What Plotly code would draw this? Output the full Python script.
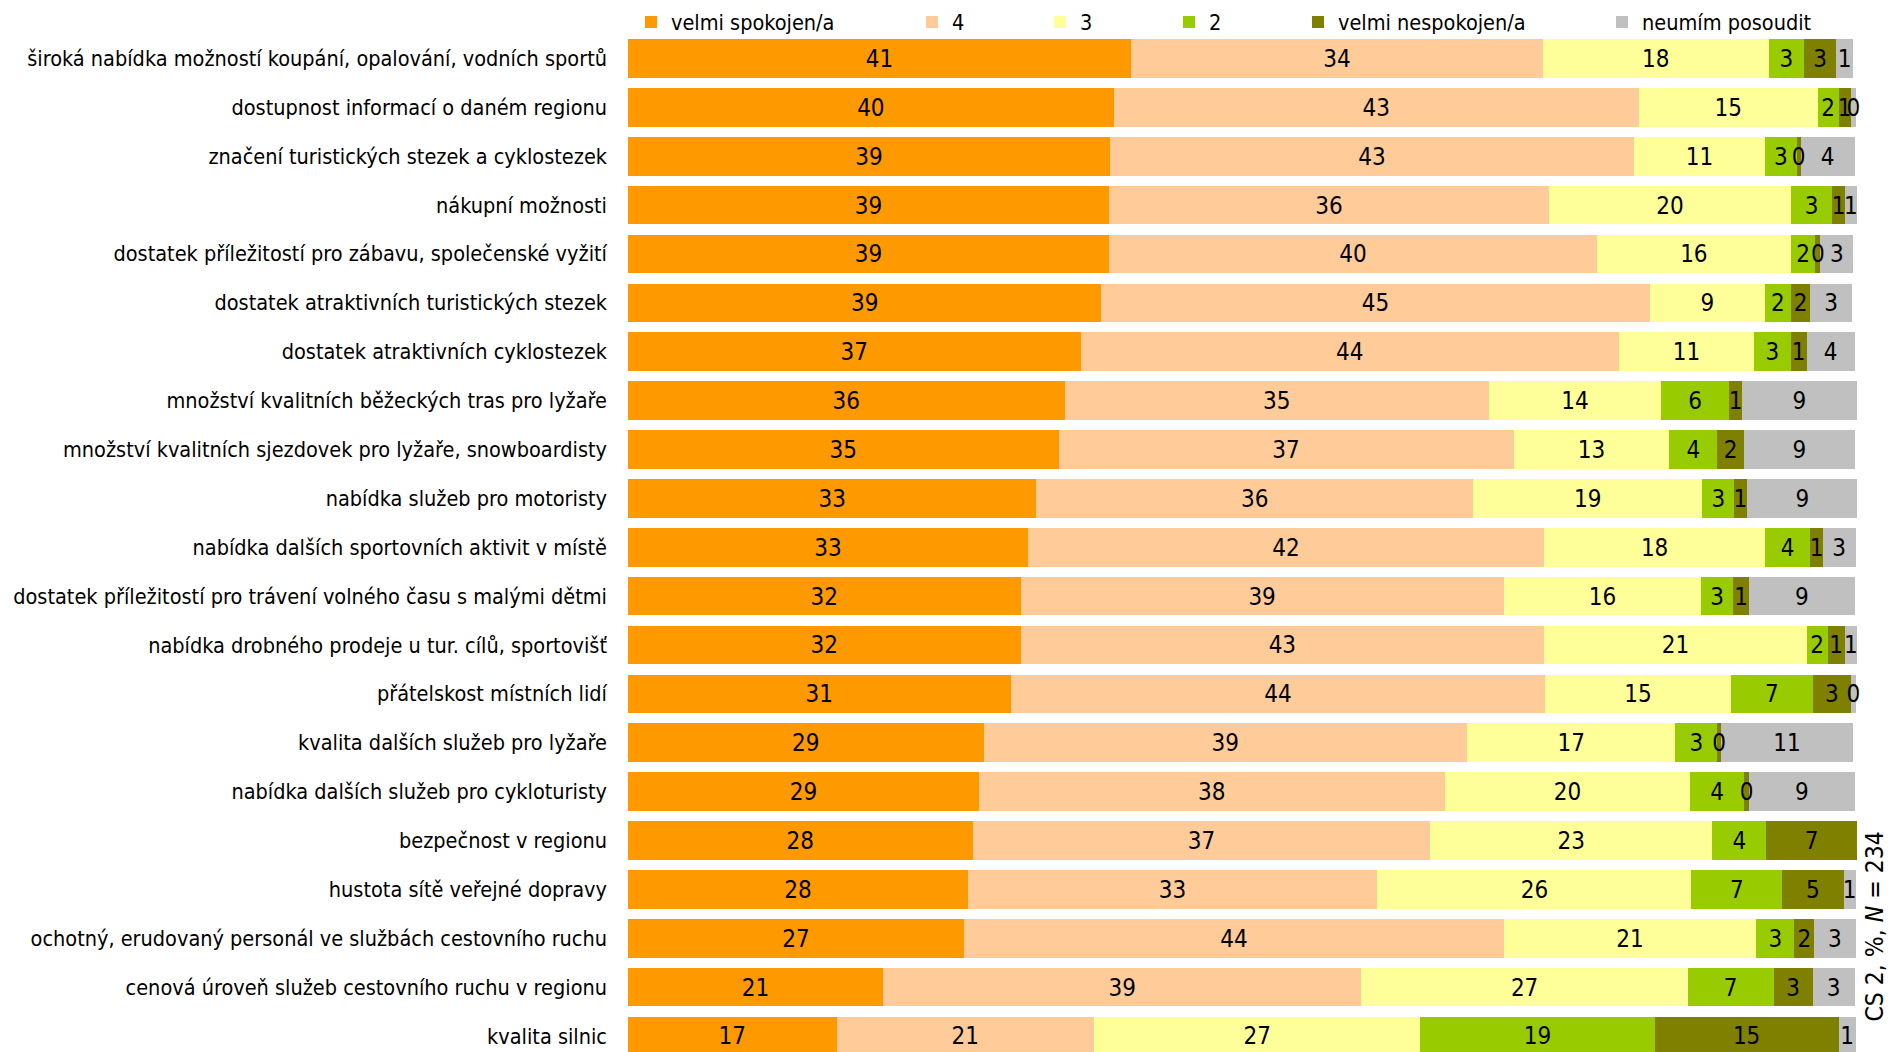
import plotly.graph_objects as go

categories = [
    "široká nabídka možností koupání, opalování, vodních sportů",
    "dostupnost informací o daném regionu",
    "značení turistických stezek a cyklostezek",
    "nákupní možnosti",
    "dostatek příležitostí pro zábavu, společenské vyžití",
    "dostatek atraktivních turistických stezek",
    "dostatek atraktivních cyklostezek",
    "množství kvalitních běžeckých tras pro lyžaře",
    "množství kvalitních sjezdovek pro lyžaře, snowboardisty",
    "nabídka služeb pro motoristy",
    "nabídka dalších sportovních aktivit v místě",
    "dostatek příležitostí pro trávení volného času s malými dětmi",
    "nabídka drobného prodeje u tur. cílů, sportovišť",
    "přátelskost místních lidí",
    "kvalita dalších služeb pro lyžaře",
    "nabídka dalších služeb pro cykloturisty",
    "bezpečnost v regionu",
    "hustota sítě veřejné dopravy",
    "ochotný, erudovaný personál ve službách cestovního ruchu",
    "cenová úroveň služeb cestovního ruchu v regionu",
    "kvalita silnic",
]

series_names = ["velmi spokojen/a", "4", "3", "2", "velmi nespokojen/a", "neumím posoudit"]

velmi_spokojen = [41.0, 39.6, 39.3, 39.2, 39.2, 38.6, 36.9, 35.6, 35.1, 33.3, 32.6,
                  32.0, 32.0, 31.2, 29.0, 28.6, 28.1, 27.7, 27.4, 20.8, 17.0]
hodnoceni_4 = [33.6, 42.8, 42.7, 35.9, 39.8, 44.7, 43.9, 34.6, 37.1, 35.6, 42.1,
               39.4, 42.7, 43.6, 39.4, 38.0, 37.3, 33.4, 44.0, 39.0, 21.0]
hodnoceni_3 = [18.4, 14.6, 10.7, 19.7, 15.8, 9.4, 11.0, 14.0, 12.7, 18.7, 18.0,
               16.1, 21.4, 15.1, 17.0, 20.0, 23.0, 25.6, 20.6, 26.6, 26.6]
hodnoceni_2 = [2.9, 1.7, 2.6, 3.4, 2.0, 2.1, 3.0, 5.6, 3.9, 2.6, 3.7,
               2.6, 1.7, 6.7, 3.4, 4.4, 4.4, 7.4, 3.1, 7.0, 19.1]
velmi_nespokojen = [2.6, 1.0, 0.3, 1.0, 0.4, 1.6, 1.3, 1.0, 2.2, 1.0, 1.0,
                    1.3, 1.4, 3.1, 0.3, 0.4, 7.4, 5.0, 1.6, 3.2, 15.0]
neumim_posoudit = [1.4, 0.4, 4.4, 1.0, 2.7, 3.4, 3.9, 9.4, 9.0, 9.1, 2.7,
                   8.6, 1.0, 0.4, 10.8, 8.6, None, 1.0, 3.4, 3.4, 1.4]

colors = ["#FF9900", "#FFCC99", "#FFFF99", "#99CC00", "#808000", "#C0C0C0"]
legend_x_px = [631, 912, 1040, 1169, 1298, 1602]

FONT = "DejaVu Sans Condensed, Liberation Sans, sans-serif"
W, H = 1890, 1052

all_series = [velmi_spokojen, hodnoceni_4, hodnoceni_3, hodnoceni_2, velmi_nespokojen, neumim_posoudit]

fig = go.Figure()
for i, (name, vals, col) in enumerate(zip(series_names, all_series, colors)):
    fig.add_trace(go.Bar(
        y=categories, x=vals, name=name, orientation="h",
        marker=dict(color=col, line=dict(width=0)),
        hoverinfo="skip",
        legend="legend" if i == 0 else f"legend{i+1}",
    ))

# value labels drawn above all bars (segment centres from the cumulative data)
lab_x, lab_y, lab_t = [], [], []
for r, cat in enumerate(categories):
    start = 0.0
    for vals in all_series:
        v = vals[r]
        if v is None:
            continue
        lab_x.append(start + v / 2)
        lab_y.append(cat)
        lab_t.append(str(int(v + 0.5)))
        start += v
fig.add_trace(go.Scatter(
    x=lab_x, y=lab_y, text=lab_t, mode="text", textposition="middle center",
    textfont=dict(family=FONT, size=24, color="black"),
    showlegend=False, hoverinfo="skip", cliponaxis=False, yaxis="y2",
))

plot_left = 628
px_per_unit = 12.27
x_max = 100.2
plot_right = plot_left + x_max * px_per_unit
top = 33.5
plot_w = plot_right - plot_left
plot_h = H - top
y_bottom = 20 + (H - 1036) / 48.9
text_shift = 0.05  # nudges label baseline so digits sit optically centred

layout_legends = {}
for i, lx in enumerate(legend_x_px):
    key = "legend" if i == 0 else f"legend{i+1}"
    layout_legends[key] = dict(
        orientation="h", xref="container", yref="container",
        x=lx / W, y=1 - 22 / H, xanchor="left", yanchor="middle",
        bgcolor="rgba(0,0,0,0)", borderwidth=0, itemwidth=30,
        font=dict(family=FONT, size=21.5, color="black"),
        itemclick=False, itemdoubleclick=False,
    )

fig.update_layout(
    width=W, height=H,
    margin=dict(l=plot_left, r=W - plot_right, t=top, b=0, pad=0, autoexpand=False),
    barmode="stack", bargap=0.21,
    plot_bgcolor="white", paper_bgcolor="white",
    showlegend=True,
    xaxis=dict(range=[0, x_max], visible=False, fixedrange=True),
    yaxis=dict(
        categoryorder="array", categoryarray=categories,
        range=[y_bottom, -0.5],
        showgrid=False, zeroline=False, showline=False, ticks="",
        ticklabelstandoff=20,
        tickfont=dict(family=FONT, size=21.5, color="black"),
        fixedrange=True,
    ),
    yaxis2=dict(
        overlaying="y", type="category",
        categoryorder="array", categoryarray=categories,
        range=[y_bottom - text_shift, -0.5 - text_shift],
        visible=False, fixedrange=True,
    ),
    annotations=[dict(
        text="CS 2, %, <i>N</i> = 234", xref="paper", yref="paper",
        x=(1875 - plot_left) / plot_w, y=(H - 927) / plot_h,
        xanchor="center", yanchor="middle",
        textangle=-90, showarrow=False,
        font=dict(family=FONT, size=24.5, color="black"),
    )],
    **layout_legends,
)

fig.write_html("out.html", config={"displayModeBar": False},
               post_script="document.body.style.margin='0';")
